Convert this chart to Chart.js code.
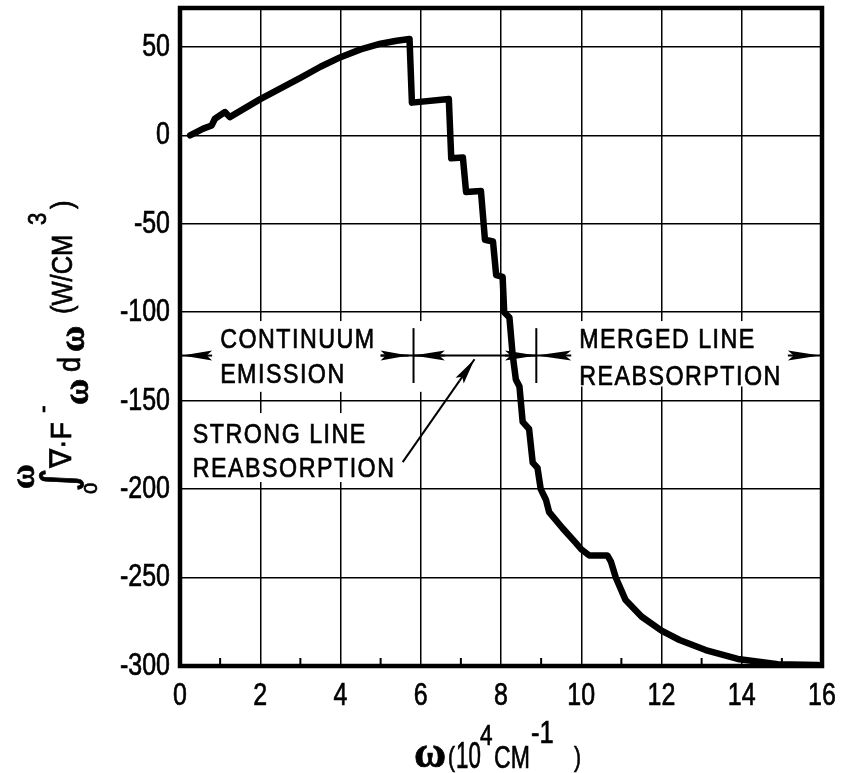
<!DOCTYPE html>
<html>
<head>
<meta charset="utf-8">
<script src="https://cdn.jsdelivr.net/npm/chart.js@4.4.1/dist/chart.umd.min.js"></script>
<style>
html,body{margin:0;padding:0;background:#fff;}
canvas{display:block;}
</style>
</head>
<body>
<canvas id="c" width="841" height="773"></canvas>
<script>
// ---- data ----
const xTicks = [0, 2, 4, 6, 8, 10, 12, 14, 16];
const xMinorTicks = [1, 3, 5, 7, 9, 11, 13, 15];
const yTicks = [-300, -250, -200, -150, -100, -50, 0, 50];
const omega = [0.25, 0.58, 0.79, 0.87, 1.12, 1.24, 2.0, 3.0, 3.5, 4.0, 4.5, 5.0, 5.4, 5.72,
  5.78, 6.70, 6.76, 7.05, 7.13, 7.50, 7.60, 7.80, 7.88, 8.04, 8.08, 8.21, 8.29, 8.37,
  8.46, 8.54, 8.70, 8.79, 8.91, 8.99, 9.12, 9.20, 9.53, 9.87, 10.0, 10.2, 10.65, 10.74,
  10.86, 11.1, 11.5, 12.0, 12.45, 13.1, 13.9, 14.9, 15.9];
const integral = [0, 3.8, 5.6, 9.4, 13.2, 10.3, 20.5, 32.5, 38.8, 44.2, 48.6, 51.8, 53.5, 54.5,
  18.5, 20.5, -13, -12.5, -32, -31.5, -59, -60, -79, -80, -100, -103, -124, -138,
  -142, -162, -166, -185, -188, -200, -206, -213, -222, -230.5, -234, -237.5, -237.5, -241,
  -250, -262.5, -272, -280, -285.3, -291, -296, -299, -299.5];
const regionLabels = {
  continuum: ['CONTINUUM', 'EMISSION'],
  strong: ['STRONG LINE', 'REABSORPTION'],
  merged: ['MERGED LINE', 'REABSORPTION']
};
// region boundaries (x, 10^4 cm^-1) and arrow level (y)
const regionBounds = [0, 5.82, 8.88, 16];
const arrowLevel = -124.5;

const SANS = '"Liberation Sans", Arimo, Arial, sans-serif';
const SERIF = '"Liberation Serif", "Times New Roman", serif';

// draw condensed text (horizontal compression sx), optional rotation; slight stroke for weight
function txt(ctx, t, x, y, font, sx, opts) {
  opts = opts || {};
  ctx.save();
  ctx.translate(x, y);
  if (opts.rot) ctx.rotate(opts.rot);
  ctx.scale(sx, 1);
  ctx.font = font;
  ctx.textAlign = opts.align || 'left';
  ctx.textBaseline = opts.baseline || 'alphabetic';
  try { ctx.letterSpacing = (opts.ls || 0) + 'px'; } catch (e) {}
  ctx.fillStyle = '#000';
  ctx.fillText(t, 0, 0);
  if (opts.heavy !== false) {
    ctx.strokeStyle = '#000';
    ctx.lineWidth = 0.7;
    ctx.strokeText(t, 0, 0);
  }
  ctx.restore();
}

const annot = {
  id: 'annot',
  beforeDatasetsDraw(chart) {
    const ctx = chart.ctx, xs = chart.scales.x, ys = chart.scales.y;
    const X = v => xs.getPixelForValue(v), Y = v => ys.getPixelForValue(v);
    ctx.save();
    // white boxes behind labels
    ctx.fillStyle = '#fff';
    const box = (x0, x1, y0, y1) => ctx.fillRect(X(x0), Y(y0), X(x1) - X(x0), Y(y1) - Y(y0));
    box(0.1, 7.3, -105, -145);
    box(9.2, 15.9, -105, -142);
    box(0.1, 5.3, -157, -196);

    ctx.strokeStyle = '#000';
    ctx.fillStyle = '#000';
    ctx.lineWidth = 2;
    const line = (x0, y0, x1, y1) => { ctx.beginPath(); ctx.moveTo(x0, y0); ctx.lineTo(x1, y1); ctx.stroke(); };
    const head = (tx, ty, bx, by, hw) => {
      const dx = tx - bx, dy = ty - by, L = Math.hypot(dx, dy);
      const nx = -dy / L * hw, ny = dx / L * hw;
      ctx.beginPath();
      ctx.moveTo(tx, ty);
      ctx.lineTo(bx + nx, by + ny);
      ctx.lineTo(bx + dx * 0.18, by + dy * 0.18);
      ctx.lineTo(bx - nx, by - ny);
      ctx.closePath();
      ctx.fill();
      line(bx, by, tx, ty);
    };
    const ay = Y(arrowLevel);
    [regionBounds[1], regionBounds[2]].forEach(b => line(X(b), Y(-109), X(b), Y(-140)));
    head(X(regionBounds[0]) + 2, ay, X(0.8), ay, 5);
    head(X(regionBounds[1]) - 5, ay, X(5.0), ay, 5);
    line(X(5.0), ay, X(regionBounds[1]), ay);
    line(X(regionBounds[1]), ay, X(regionBounds[2]), ay);
    head(X(regionBounds[1]), ay, X(6.6), ay, 5);
    head(X(regionBounds[2]), ay, X(8.1), ay, 5);
    head(X(regionBounds[2]), ay, X(9.75), ay, 5);
    head(X(regionBounds[3]) - 2, ay, X(15.15), ay, 5);
    const px0 = X(5.55), py0 = Y(-184.7), px1 = X(7.34), py1 = Y(-126.6);
    const dd = Math.hypot(px1 - px0, py1 - py0);
    const bx = px1 - (px1 - px0) / dd * 26, by = py1 - (py1 - py0) / dd * 26;
    line(px0, py0, bx, by);
    head(px1, py1, bx, by, 5);

    // labels
    const f = '28px ' + SANS, sx = 0.83, ls = 1.8;
    txt(ctx, regionLabels.continuum[0], X(1.0), Y(-120.3), f, sx, { ls });
    txt(ctx, regionLabels.continuum[1], X(1.0), Y(-140.1), f, sx, { ls });
    txt(ctx, regionLabels.merged[0], X(9.95), Y(-120.3), f, sx, { ls });
    txt(ctx, regionLabels.merged[1], X(9.95), Y(-141.2), f, sx, { ls });
    txt(ctx, regionLabels.strong[0], X(0.32), Y(-174), f, sx, { ls });
    txt(ctx, regionLabels.strong[1], X(0.32), Y(-193.2), f, sx, { ls });
    ctx.restore();
  },
  afterDraw(chart) {
    const ctx = chart.ctx, a = chart.chartArea, xs = chart.scales.x, ys = chart.scales.y;
    ctx.save();
    ctx.strokeStyle = '#000';
    ctx.fillStyle = '#000';
    ctx.lineWidth = 2;
    xMinorTicks.forEach(v => {
      const px = xs.getPixelForValue(v);
      ctx.beginPath(); ctx.moveTo(px, a.bottom); ctx.lineTo(px, a.bottom - 8); ctx.stroke();
    });
    ctx.lineWidth = 4.5;
    ctx.strokeRect(a.left, a.top, a.right - a.left, a.bottom - a.top);

    // tick labels (condensed)
    const tf = '32px ' + SANS;
    yTicks.forEach(v => txt(ctx, String(v), a.left - 10, ys.getPixelForValue(v), tf, 0.78, { align: 'right', baseline: 'middle' }));
    xTicks.forEach(v => txt(ctx, String(v), xs.getPixelForValue(v), 705, tf, 0.78, { align: 'center' }));

    // x-axis title
    txt(ctx, 'ω', 414, 767, 'bold 44px ' + SERIF, 1);
    txt(ctx, '(', 448, 766, '28px ' + SANS, 0.75);
    txt(ctx, '10', 456, 768, '36px ' + SANS, 0.62);
    txt(ctx, '4', 480, 745, '30px ' + SANS, 0.75);
    txt(ctx, 'CM', 494, 768, '32px ' + SANS, 0.72);
    txt(ctx, '-1', 531, 743, '32px ' + SANS, 0.8);
    txt(ctx, ')', 574, 766, '28px ' + SANS, 0.75);

    // y-axis title (rotated)
    const R = { rot: -Math.PI / 2 };
    txt(ctx, 'ω', 34, 489, 'bold 34px ' + SERIF, 1, R);
    txt(ctx, '∫', 74, 492, '46px "DejaVu Sans", sans-serif', 1, R);
    txt(ctx, 'o', 97, 494, '24px ' + SANS, 0.85, R);
    txt(ctx, '∇·F', 71, 468, '30px ' + SANS, 0.95, R);
    txt(ctx, '-', 51, 413, '26px ' + SANS, 0.9, R);
    txt(ctx, 'ω', 88, 405, 'bold 36px ' + SERIF, 1, R);
    txt(ctx, 'd', 80, 372, '32px ' + SANS, 0.85, R);
    txt(ctx, 'ω', 84, 352, 'bold 36px ' + SERIF, 1, R);
    txt(ctx, '(W/CM', 72, 314, '30px ' + SANS, 0.85, R);
    txt(ctx, '3', 46, 225, '26px ' + SANS, 0.85, R);
    txt(ctx, ')', 72, 209, '30px ' + SANS, 0.85, R);
    ctx.restore();
  }
};

new Chart(document.getElementById('c'), {
  type: 'line',
  data: {
    datasets: [{
      data: omega.map((x, i) => ({ x: x, y: integral[i] })),
      borderColor: '#000',
      borderWidth: 6.5,
      pointRadius: 0,
      tension: 0,
      borderJoinStyle: 'round',
      borderCapStyle: 'round',
      fill: false
    }]
  },
  options: {
    responsive: false,
    devicePixelRatio: 1,
    animation: false,
    layout: { padding: { top: 8, right: 19, left: 0, bottom: 0 } },
    plugins: { legend: { display: false }, tooltip: { enabled: false } },
    scales: {
      x: {
        type: 'linear',
        min: 0, max: 16,
        afterBuildTicks: a => { a.ticks = xTicks.map(v => ({ value: v })); },
        afterFit: a => { a.height = 107; a.paddingLeft = 0; a.paddingRight = 0; },
        grid: { color: '#000', lineWidth: 1.5, drawTicks: false },
        border: { display: false },
        ticks: { display: false }
      },
      y: {
        type: 'linear',
        min: -300, max: 72,
        afterBuildTicks: a => { a.ticks = yTicks.map(v => ({ value: v })); },
        afterFit: a => { a.width = 180; a.paddingTop = 0; a.paddingBottom = 0; },
        grid: { color: '#000', lineWidth: 1.5, drawTicks: false },
        border: { display: false },
        ticks: { display: false }
      }
    }
  },
  plugins: [annot]
});
</script>
</body>
</html>
